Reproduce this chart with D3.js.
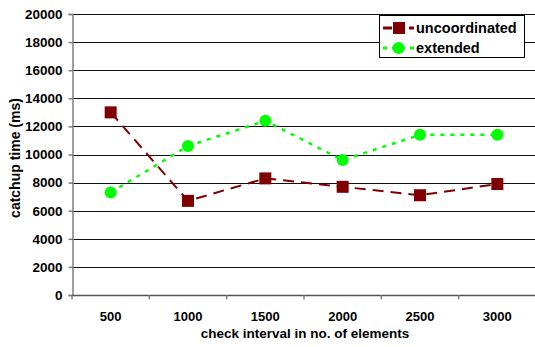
<!DOCTYPE html>
<html>
<head>
<meta charset="utf-8">
<script src="https://cdn.jsdelivr.net/npm/d3@7"></script>
<style>
  html, body { margin: 0; padding: 0; background: #fff; }
  svg text { font-family: "Liberation Sans", Arial, sans-serif; font-weight: bold; }
</style>
</head>
<body>
<svg id="chart" width="535" height="347"></svg>
<script>
// Check interval categories (number of elements)
const categories = ["500", "1000", "1500", "2000", "2500", "3000"];
// Catch-up time in ms per series
const uncoordinated = [13000, 6700, 8300, 7700, 7100, 7900];
const extended = [7300, 10600, 12400, 9600, 11400, 11400];
const yTicks = [0, 2000, 4000, 6000, 8000, 10000, 12000, 14000, 16000, 18000, 20000];

const svg = d3.select("#chart");
const plotLeft = 72, plotRight = 536, plotTop = 14, plotBottom = 295;
const tickFont = "13.5px";

const x = d3.scaleBand().domain(categories).range([plotLeft, plotRight]).paddingInner(0).paddingOuter(0);
const y = d3.scaleLinear().domain([0, 20000]).range([plotBottom, plotTop]);

// Horizontal gridlines
svg.append("g")
  .selectAll("line")
  .data(yTicks.filter(d => d > 0))
  .join("line")
  .attr("x1", plotLeft).attr("x2", 535)
  .attr("y1", d => Math.round(y(d)) + 0.5).attr("y2", d => Math.round(y(d)) + 0.5)
  .attr("stroke", "#111").attr("stroke-width", 1);

// Y axis
const yAxis = svg.append("g")
  .attr("transform", `translate(${plotLeft + 0.5},0)`)
  .call(d3.axisLeft(y).tickValues(yTicks).tickSize(4).tickPadding(6).tickFormat(d3.format("d")));
yAxis.select(".domain").attr("stroke", "#808080").attr("stroke-width", 1.5);
yAxis.selectAll(".tick line").attr("stroke", "#808080").attr("stroke-width", 1.5);
yAxis.selectAll(".tick text").attr("font-size", tickFont).attr("fill", "#000");

// X axis: ticks at category boundaries, labels centered
const xAxisG = svg.append("g").attr("transform", `translate(0,${plotBottom + 0.5})`);
xAxisG.append("line").attr("x1", plotLeft).attr("x2", 535).attr("stroke", "#555").attr("stroke-width", 1.5);
const bounds = categories.map(c => x(c)).concat([x(categories[categories.length - 1]) + x.bandwidth()]);
xAxisG.selectAll(".tk").data(bounds).join("line")
  .attr("class", "tk")
  .attr("x1", d => d).attr("x2", d => d).attr("y1", 0).attr("y2", 4)
  .attr("stroke", "#808080").attr("stroke-width", 1.5);
xAxisG.selectAll("text").data(categories).join("text")
  .attr("x", d => x(d) + x.bandwidth() / 2)
  .attr("y", 25.5)
  .attr("text-anchor", "middle")
  .attr("font-size", "13px")
  .text(d => d);

// Axis titles
svg.append("text")
  .attr("x", 305).attr("y", 338)
  .attr("text-anchor", "middle").attr("font-size", tickFont)
  .text("check interval in no. of elements");
svg.append("text")
  .attr("transform", "translate(20,158) rotate(-90)")
  .attr("text-anchor", "middle").attr("font-size", "14px")
  .text("catchup time (ms)");

const cx = d => x(d) + x.bandwidth() / 2;
const line = d3.line().x(d => cx(d[0])).y(d => y(d[1]));

// Extended series: dotted green line with circle markers
const extData = categories.map((c, i) => [c, extended[i]]);
svg.append("path").datum(extData)
  .attr("d", line).attr("fill", "none")
  .attr("stroke", "#00ff00").attr("stroke-width", 2.5).attr("stroke-dasharray", "4,6");
svg.append("g").selectAll("circle").data(extData).join("circle")
  .attr("cx", d => cx(d[0])).attr("cy", d => y(d[1])).attr("r", 6)
  .attr("fill", "#00ff00");

// Uncoordinated series: dashed dark red line with square markers
const uncData = categories.map((c, i) => [c, uncoordinated[i]]);
svg.append("path").datum(uncData)
  .attr("d", line).attr("fill", "none")
  .attr("stroke", "#800000").attr("stroke-width", 2).attr("stroke-dasharray", "11,7");
svg.append("g").selectAll("rect").data(uncData).join("rect")
  .attr("x", d => cx(d[0]) - 6).attr("y", d => y(d[1]) - 6)
  .attr("width", 12).attr("height", 12)
  .attr("fill", "#800000");

// Legend
const lg = svg.append("g");
lg.append("rect").attr("x", 379.5).attr("y", 15.5).attr("width", 145).attr("height", 42)
  .attr("fill", "#fff").attr("stroke", "#000").attr("stroke-width", 1);
lg.append("line").attr("x1", 383).attr("x2", 414).attr("y1", 28).attr("y2", 28)
  .attr("stroke", "#800000").attr("stroke-width", 3).attr("stroke-dasharray", "9,4");
lg.append("rect").attr("x", 393).attr("y", 22).attr("width", 12).attr("height", 12).attr("fill", "#800000");
lg.append("text").attr("x", 416).attr("y", 33).attr("font-size", "14.5px").text("uncoordinated");
lg.append("line").attr("x1", 383).attr("x2", 414).attr("y1", 48).attr("y2", 48)
  .attr("stroke", "#00ff00").attr("stroke-width", 3).attr("stroke-dasharray", "4,5");
lg.append("circle").attr("cx", 398.5).attr("cy", 48).attr("r", 6).attr("fill", "#00ff00");
lg.append("text").attr("x", 416).attr("y", 53).attr("font-size", "14.5px").text("extended");
</script>
</body>
</html>
